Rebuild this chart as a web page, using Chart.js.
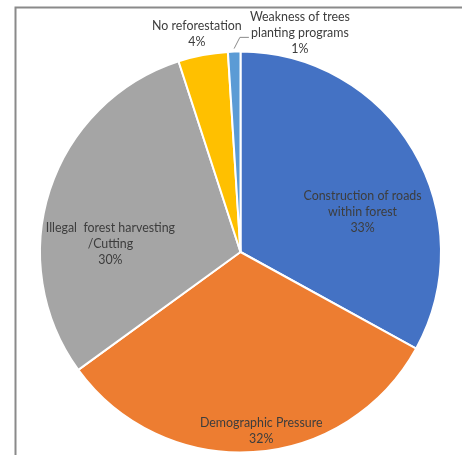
<!DOCTYPE html>
<html>
<head>
<meta charset="utf-8">
<script src="https://cdn.jsdelivr.net/npm/chart.js@4"></script>
<style>
  html, body { margin: 0; padding: 0; background: #fff; }
  canvas { display: block; }
</style>
</head>
<body>
<canvas id="pieChart" width="462" height="455"></canvas>
<script>
const categories = [
  ["Construction of roads", "within forest"],
  ["Demographic Pressure"],
  ["Illegal  forest harvesting", "/Cutting"],
  ["No reforestation"],
  ["Weakness of trees", "planting programs"],
];
const shares = [33, 32, 30, 4, 1];
const sliceColors = ["#4472C4", "#ED7D31", "#A5A5A5", "#FFC000", "#5B9BD5"];

// where each label sits: distance as a fraction of the radius, and a turn (deg) off the slice middle
const labelSpots = [
  { r: 0.64, turn: 12.6 },
  { r: 0.9, turn: -3 },
  { r: 0.65, turn: -14.7 },
  { r: 1.11, turn: -0.5 },
  { r: 1.13, turn: 17, leader: true },
];

const labelFont = "12.4px Lato";
const lineHeight = 16;

const frameLines = {
  id: "frameLines",
  beforeDraw(chart) {
    const c = chart.ctx;
    c.save();
    c.strokeStyle = "#8a8a8a";
    c.lineWidth = 2;
    c.beginPath();
    c.moveTo(15.5, chart.height);
    c.lineTo(15.5, 7.5);
    c.lineTo(chart.width, 7.5);
    c.stroke();
    c.restore();
  },
};

const sliceLabels = {
  id: "sliceLabels",
  afterDatasetsDraw(chart) {
    const c = chart.ctx;
    const meta = chart.getDatasetMeta(0);
    c.save();
    c.font = labelFont;
    c.fillStyle = "#3d3d3d";
    c.textAlign = "center";
    c.textBaseline = "middle";
    meta.data.forEach((arc, i) => {
      const spot = labelSpots[i];
      const mid = (arc.startAngle + arc.endAngle) / 2 + spot.turn * Math.PI / 180;
      const cx = arc.x + Math.cos(mid) * arc.outerRadius * spot.r;
      const cy = arc.y + Math.sin(mid) * arc.outerRadius * spot.r;
      const lines = categories[i].concat([shares[i] + "%"]);
      const top = cy - (lines.length - 1) * lineHeight / 2;
      lines.forEach((t, k) => c.fillText(t, cx, top + k * lineHeight));

      if (spot.leader) {
        const w = Math.max(...lines.map((t) => c.measureText(t).width));
        const left = cx - w / 2;
        const a = (arc.startAngle + arc.endAngle) / 2;
        const sx = arc.x + Math.cos(a) * (arc.outerRadius + 3);
        const sy = arc.y + Math.sin(a) * (arc.outerRadius + 3);
        c.strokeStyle = "#8a8a8a";
        c.lineWidth = 1;
        c.beginPath();
        c.moveTo(sx, sy);
        c.lineTo(left - 10, cy + 4);
        c.lineTo(left - 1, cy + 4);
        c.stroke();
      }
    });
    c.restore();
  },
};

new Chart(document.getElementById("pieChart"), {
  type: "pie",
  data: {
    labels: categories,
    datasets: [
      {
        data: shares,
        backgroundColor: sliceColors,
        borderColor: "#ffffff",
        borderWidth: 2,
      },
    ],
  },
  options: {
    responsive: false,
    devicePixelRatio: 1,
    animation: false,
    layout: { padding: { left: 39, right: 20, top: 50, bottom: 1 } },
    plugins: {
      legend: { display: false },
      tooltip: { enabled: false },
    },
  },
  plugins: [frameLines, sliceLabels],
});
</script>
</body>
</html>
